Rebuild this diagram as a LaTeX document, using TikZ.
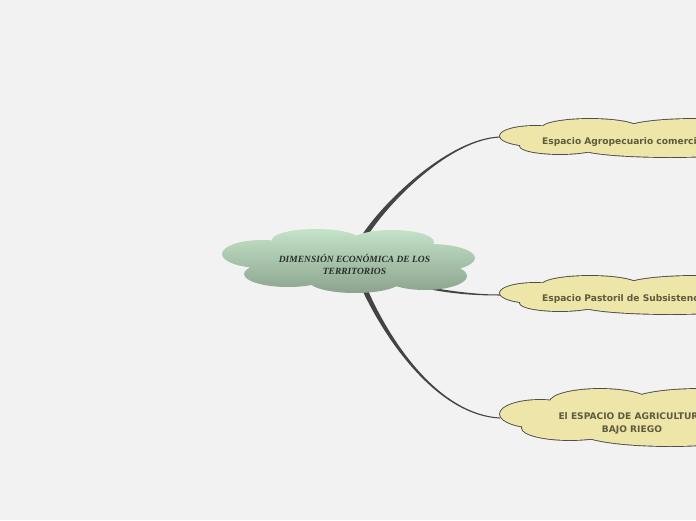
\documentclass[tikz,border=0pt]{standalone}
\usepackage{fontspec}
\newfontfamily\serifbi{Liberation Serif}
\newfontfamily\sansb{DejaVu Sans}
\usetikzlibrary{calc}
\definecolor{bg}{HTML}{F2F2F2}
\definecolor{conn}{HTML}{444444}
\definecolor{cgtop}{HTML}{C4E3C9}
\definecolor{cgbot}{HTML}{8CA38D}
\definecolor{yfill}{HTML}{EDE6A8}
\definecolor{yline}{HTML}{4D4D4D}
\definecolor{ytxt}{HTML}{5E5A3C}
\definecolor{ctxt}{HTML}{26302A}
\tikzset{
  connector/.style={fill=conn},
  ctext/.style={font=\serifbi\bfseries\itshape\fontsize{9.5}{12}\selectfont, text=ctxt, inner sep=0pt, align=center},
  ytext/.style={font=\sansb\bfseries\fontsize{9.1}{13}\selectfont, text=ytxt, inner sep=0pt},
  cloudedge/.style={draw=yline, line width=1.8pt},
  cloudbody/.style={fill=yfill},
}
\newcommand{\centralcloud}{(262,254) ellipse [x radius=40pt, y radius=14pt]
  (316,240) ellipse [x radius=44pt, y radius=11pt]
  (392,242) ellipse [x radius=42pt, y radius=12pt]
  (430,258) ellipse [x radius=45pt, y radius=14pt]
  (288,274) ellipse [x radius=44pt, y radius=13pt]
  (355,281) ellipse [x radius=46pt, y radius=12pt]
  (425,276) ellipse [x radius=42pt, y radius=14pt]
  (350,260) ellipse [x radius=100pt, y radius=22pt]}
\newcommand{\smallcloud}{(535,136) ellipse [x radius=35pt, y radius=10pt]
  (590,128) ellipse [x radius=48pt, y radius=9pt]
  (695,129) ellipse [x radius=70pt, y radius=10pt]
  (560,146) ellipse [x radius=40pt, y radius=8pt]
  (670,148) ellipse [x radius=90pt, y radius=9pt]
  (620,139) ellipse [x radius=100pt, y radius=11pt]}
\newcommand{\bigcloud}{(540,414) ellipse [x radius=40pt, y radius=14pt]
  (600,402) ellipse [x radius=50pt, y radius=13pt]
  (700,402) ellipse [x radius=70pt, y radius=13pt]
  (570,428) ellipse [x radius=48pt, y radius=12pt]
  (670,432) ellipse [x radius=90pt, y radius=14pt]
  (620,416) ellipse [x radius=105pt, y radius=16pt]}
\begin{document}
\begin{tikzpicture}[x=1pt,y=-1pt]
\useasboundingbox (0,0) rectangle (696,520);
\fill[bg] (0,0) rectangle (696,520);
\clip (0,0) rectangle (696,520);
% connector end points
\coordinate (cT) at (365,235);
\coordinate (eT) at (500,137);
\coordinate (cB) at (365,290);
\coordinate (eB) at (500,418);
\coordinate (cM) at (433,289);
\coordinate (eM) at (500,295);
% tapered connectors
\fill[connector] ($(cT)+(-2.1,-1.4)$) .. controls ($(cT)+(21.3,-36.1)$) and ($(eT)+(-50,1.2)$) .. ($(eT)+(0,-0.5)$)
  -- ($(eT)+(0,0.5)$) .. controls ($(eT)+(-50,2.8)$) and ($(cT)+(24.7,-33.9)$) .. ($(cT)+(2.1,1.4)$) -- cycle;
\fill[connector] ($(cB)+(2.3,-1.0)$) .. controls ($(cB)+(26.5,54.3)$) and ($(eB)+(-60,-3.8)$) .. ($(eB)+(0,-0.5)$)
  -- ($(eB)+(0,0.5)$) .. controls ($(eB)+(-60,-2.2)$) and ($(cB)+(23.5,55.7)$) .. ($(cB)+(-2.3,1.0)$) -- cycle;
\fill[connector] ($(cM)+(0,-1)$) .. controls ($(cM)+(27,3.3)$) and ($(eM)+(-20,-0.5)$) .. ($(eM)+(0,-0.5)$)
  -- ($(eM)+(0,0.5)$) .. controls ($(eM)+(-20,0.5)$) and ($(cM)+(27,5.7)$) .. ($(cM)+(0,1)$) -- cycle;
% central cloud
\shade[top color=cgtop, bottom color=cgbot] \centralcloud;
\node[ctext] (center) at (354.5,264) {DIMENSIÓN ECONÓMICA DE LOS\\TERRITORIOS};
% yellow clouds
\path[cloudedge] \smallcloud;
\path[cloudbody] \smallcloud;
\node[ytext, anchor=west] (n1) at (542,141.8) {Espacio Agropecuario comercial};
\begin{scope}[shift={(0,157)}]
\path[cloudedge] \smallcloud;
\path[cloudbody] \smallcloud;
\end{scope}
\node[ytext, anchor=west] (n2) at (542,298.8) {Espacio Pastoril de Subsistencia};
\path[cloudedge] \bigcloud;
\path[cloudbody] \bigcloud;
\node[ytext, align=center] (n3) at (632,423.5) {El ESPACIO DE AGRICULTURA\\BAJO RIEGO};
\end{tikzpicture}
\end{document}
